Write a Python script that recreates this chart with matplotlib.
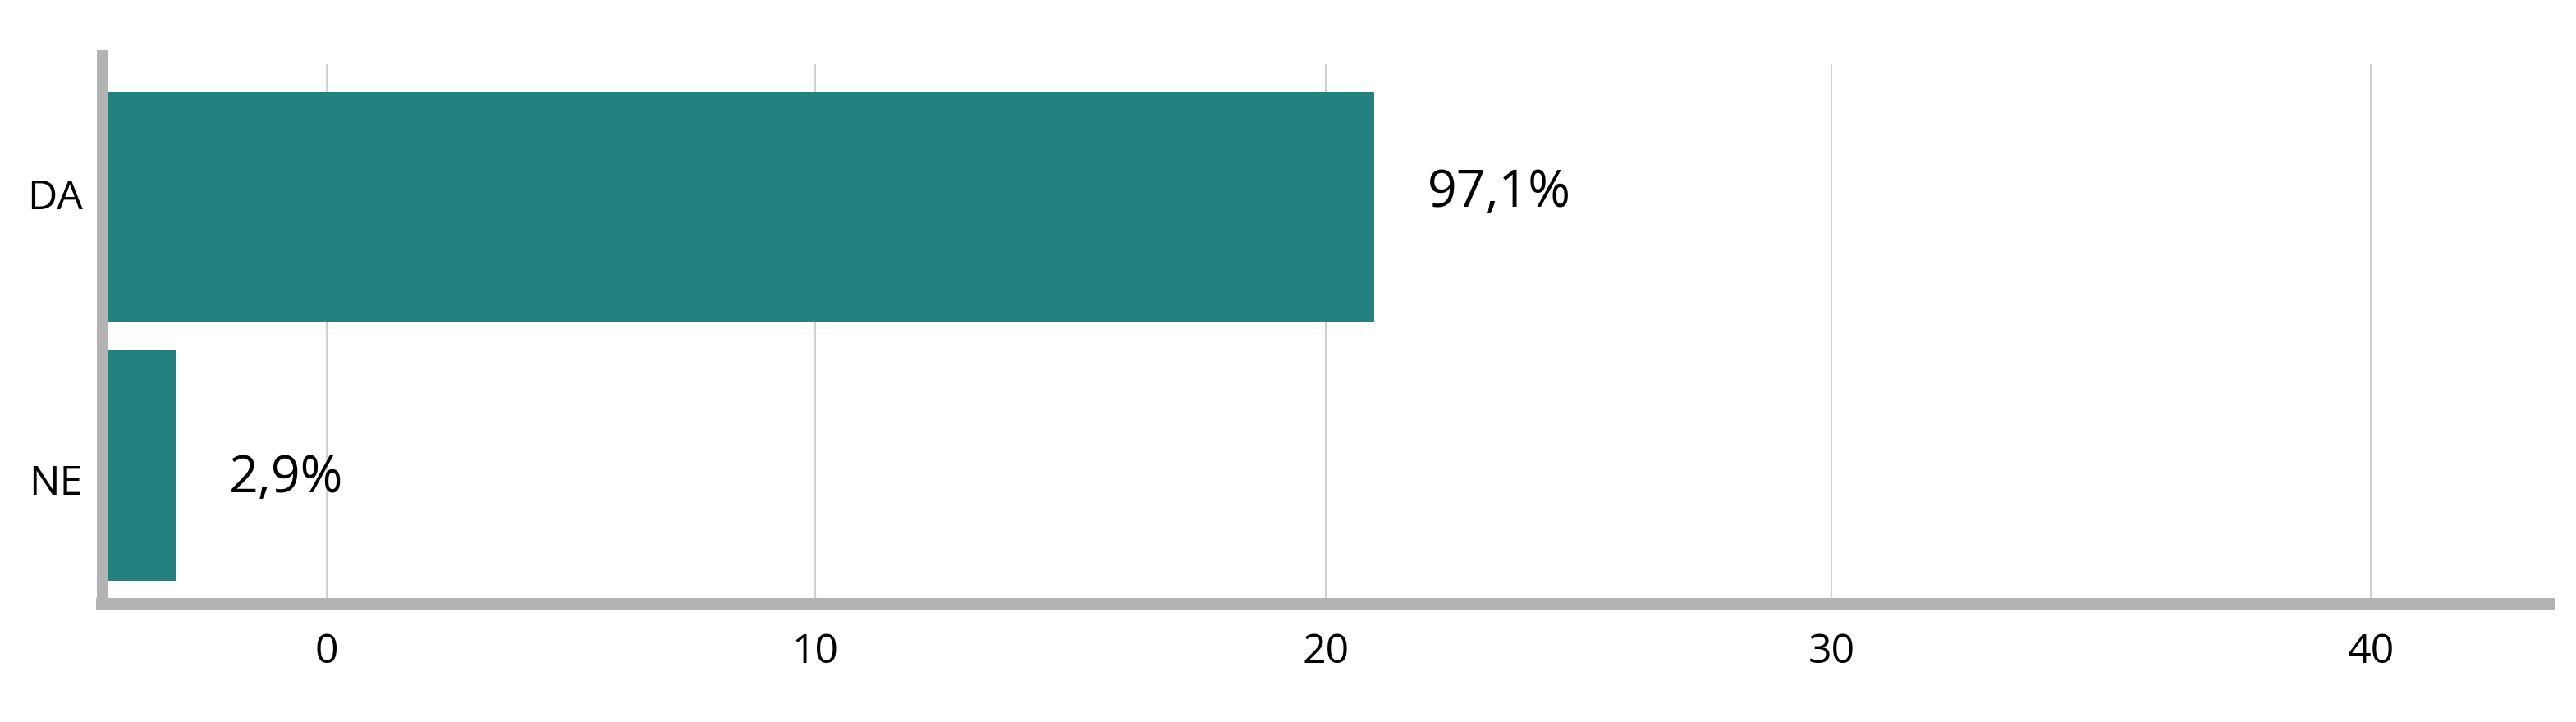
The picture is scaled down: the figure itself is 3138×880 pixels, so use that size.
import numpy as np
import matplotlib
matplotlib.use("Agg")
import matplotlib.pyplot as plt

# datos
categorias = ["NE", "DA"]
fin_barras = [-3.1, 20.95]          # extremo de cada barra en la escala del eje
etiquetas = ["2,9%", "97,1%"]
ticks_x = [0, 10, 20, 30, 40]
eje_min, eje_max = -4.6, 43.3

# escala del eje x (separacion irregular entre marcas, como en el original)
nudos_val = [-10, 0, 10, 20, 30, 40, 50]
nudos_pos = [-595, 0, 595, 1217, 1833, 2490, 3147]


def adelante(v):
    return np.interp(v, nudos_val, nudos_pos)


def atras(p):
    return np.interp(p, nudos_pos, nudos_val)


COLOR_BARRA = "#21827F"
COLOR_EJE = "#B3B3B3"
COLOR_GRID = "#D0D0D0"

plt.rcParams["font.family"] = ["Open Sans", "DejaVu Sans"]

fig = plt.figure(figsize=(31.38, 8.8), dpi=100)
ax = fig.add_axes([0.03967, 0.16420, 0.98948 - 0.03967, 0.92330 - 0.16420])

ax.set_xscale("function", functions=(adelante, atras))
ax.set_xlim(eje_min, eje_max)
ax.set_ylim(-0.533, 1.587)

y = np.arange(len(categorias))
# los textos quedan un poco separados del centro de cada barra
y_txt = y + (y - 0.5) * 0.105

anchos = [f - eje_min for f in fin_barras]
ax.barh(y, anchos, left=eje_min, height=0.892, color=COLOR_BARRA, zorder=2)

# lineas de referencia verticales
ax.vlines(ticks_x, 0, 0.984, transform=ax.get_xaxis_transform(),
          color=COLOR_GRID, linewidth=1.5, zorder=1)

for yt, f, txt in zip(y_txt, fin_barras, etiquetas):
    ax.annotate(txt, (f, yt), xytext=(47, 0), textcoords="offset points",
                ha="left", va="center", fontsize=45, color="black")

ax.set_yticks(y_txt)
ax.set_yticklabels(categorias)
ax.set_xticks(ticks_x)
ax.set_xticklabels([str(t) for t in ticks_x])
ax.xaxis.set_minor_locator(matplotlib.ticker.NullLocator())
ax.tick_params(axis="x", length=0, pad=25, labelsize=36)
ax.tick_params(axis="y", length=0, pad=17, labelsize=36)

for lado in ["top", "right"]:
    ax.spines[lado].set_visible(False)
ax.spines["left"].set_color(COLOR_EJE)
ax.spines["left"].set_linewidth(9.4)
ax.spines["bottom"].set_color(COLOR_EJE)
ax.spines["bottom"].set_linewidth(10.8)
for lado in ["left", "bottom"]:
    ax.spines[lado].set_capstyle("projecting")
    ax.spines[lado].set_zorder(3)

fig.savefig("out.png", dpi=100)
